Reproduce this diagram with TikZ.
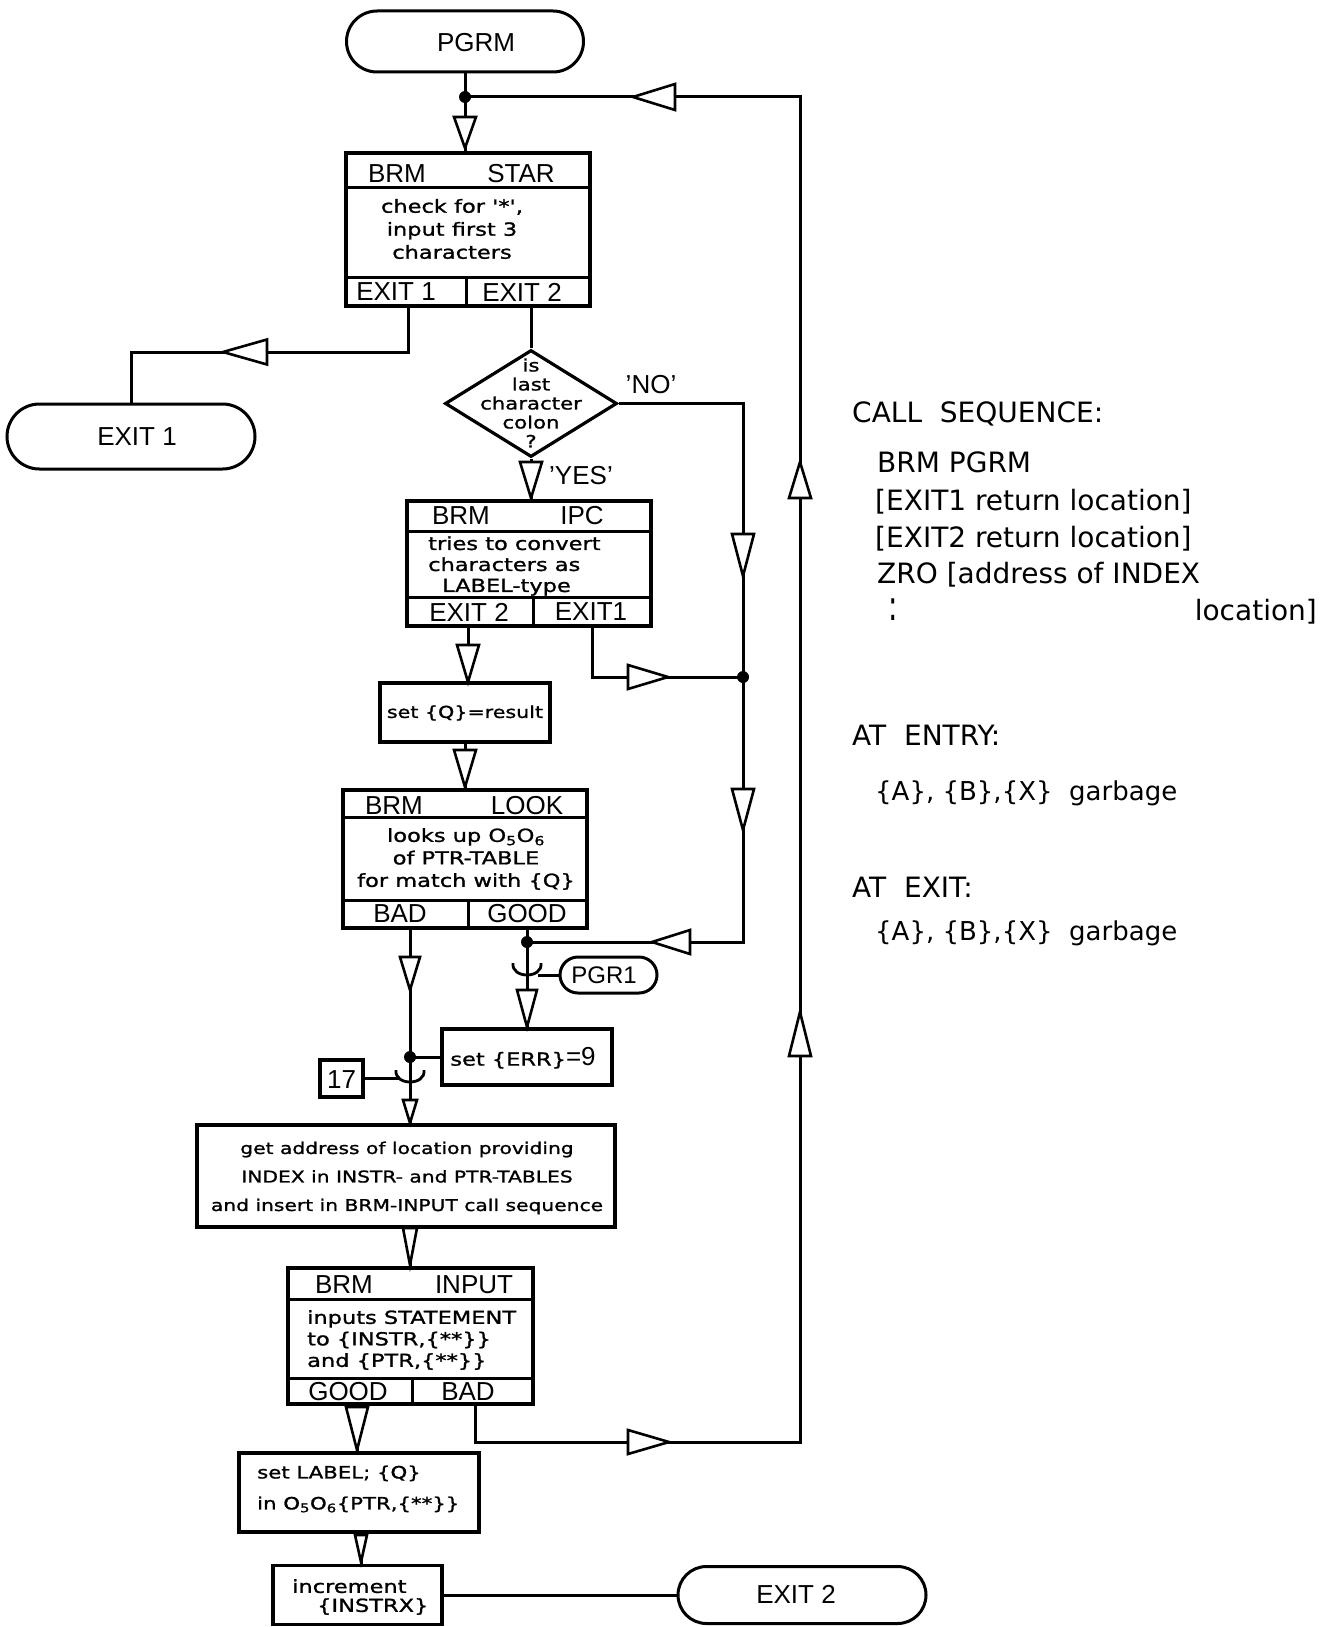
\documentclass[tikz,border=0pt]{standalone}
\usepackage{fontspec}
\setmainfont{Liberation Sans}
\newfontfamily\handf{DejaVu Sans}[FakeStretch=1.25, FakeBold=1.2]
\newfontfamily\rtf{DejaVu Sans}
\usetikzlibrary{calc,shapes.misc,shapes.geometric}

\tikzset{
  conn/.style={line width=3pt, line join=miter},
  trist/.style={line width=2.6pt, fill=white, line join=miter},
  boxst/.style={draw, line width=3.2pt, inner sep=0pt, rectangle},
  termst/.style={draw, line width=3pt, inner sep=0pt, rounded rectangle},
  capl/.style={font=\fontsize{26}{30}\selectfont, inner sep=0pt},
  hand/.style={font=\handf\fontsize{18}{23}\selectfont, inner sep=0pt, align=center},
  rtxt/.style={font=\rtf\fontsize{28}{32}\selectfont, inner sep=0pt, anchor=base west},
}
\newcommand\tri[4]{\begin{scope}[shift={#1}, rotate=#2]\draw[trist] (0,0) -- (-#3,#4/2) -- (-#3,-#4/2) -- cycle;\end{scope}}
\newcommand\curl[1]{\draw[conn, line width=2.8pt] ($#1+(-14,-7)$) .. controls ($#1+(-16,9)$) and ($#1+(16,9)$) .. ($#1+(14,-7)$);}

\begin{document}
\begin{tikzpicture}[x=1pt,y=-1pt]
\fill[white] (0,0) rectangle (1320,1627);
\useasboundingbox (0,0) rectangle (1320,1627);

% ---------- terminals
\node[termst, minimum width=237, minimum height=61] (pgrm) at (465,41.5) {};
\node[capl] (pgrmT) at (476,43) {PGRM};
\node[termst, minimum width=248, minimum height=65] (exit1) at (131,436.5) {};
\node[capl] (exit1T) at (137,437) {EXIT 1};
\node[termst, minimum width=248, minimum height=57] (exit2) at (802,1595) {};
\node[capl] (exit2T) at (796,1594) {EXIT 2};
\node[termst, minimum width=97, minimum height=36] (pgr1) at (608.5,975) {};
\node[capl, font=\fontsize{24}{28}\selectfont] (pgr1T) at (604,975) {PGR1};

% ---------- BRM STAR
\node[boxst, minimum width=244, minimum height=153] (star) at (468,229.5) {};
\draw[conn] (346,187) -- (590,187);
\draw[conn] (346,277) -- (590,277);
\draw[conn] (466,277) -- (466,306);
\node[capl] (starB) at (397,174) {BRM};
\node[capl] (starS) at (521,174) {STAR};
\node[capl] (starE1) at (396,292) {EXIT 1};
\node[capl] (starE2) at (522,292) {EXIT 2};
\node[hand] (starT) at (452,229) {check for '*',\\input first 3\\characters};
\coordinate (starX1) at (408,306);
\coordinate (starX2) at (531,306);

% ---------- diamond
\node[diamond, draw, line width=3.2pt, minimum width=172, minimum height=107, inner sep=0pt] (dia) at (531,403.5) {};
\node[hand, font=\handf\fontsize{17}{19}\selectfont] (diaT) at (531,403) {is\\last\\character\\colon\\?};
\node[capl] (noT) at (651,385) {'NO'};
\node[capl] (yesT) at (581,476) {'YES'};

% ---------- BRM IPC
\node[boxst, minimum width=244, minimum height=125] (ipc) at (529,563.5) {};
\draw[conn] (407,531) -- (651,531);
\draw[conn] (407,597) -- (651,597);
\draw[conn] (533,597) -- (533,626);
\node[capl] (ipcB) at (461,516) {BRM};
\node[capl] (ipcI) at (582,516) {IPC};
\node[capl] (ipcE2) at (469,612) {EXIT 2};
\node[capl] (ipcE1) at (591,612) {EXIT1};
\node[hand, align=left, anchor=west, font=\handf\fontsize{18}{21}\selectfont] (ipcT) at (428,566) {tries to convert\\characters as\\\hspace*{14pt}LABEL-type};
\coordinate (ipcX2) at (468,626);
\coordinate (ipcX1) at (592,626);

% ---------- set Q
\node[boxst, minimum width=170, minimum height=59] (setq) at (465,712.5) {};
\node[hand, font=\handf\fontsize{16.5}{20}\selectfont] (setqT) at (465,713) {set \{Q\}=result};

% ---------- BRM LOOK
\node[boxst, minimum width=244, minimum height=138] (look) at (465,859) {};
\draw[conn] (343,817) -- (587,817);
\draw[conn] (343,900) -- (587,900);
\draw[conn] (468,900) -- (468,928);
\node[capl] (lookB) at (394,806) {BRM};
\node[capl] (lookL) at (527,806) {LOOK};
\node[capl] (lookBad) at (400,914) {BAD};
\node[capl] (lookGood) at (527,914) {GOOD};
\node[hand, font=\handf\fontsize{18}{22.5}\selectfont] (lookT) at (466,859) {looks up O\textsubscript{5}O\textsubscript{6}\\of PTR-TABLE\\for match with \{Q\}};
\coordinate (lookXB) at (410,928);
\coordinate (lookXG) at (527,928);

% ---------- set ERR
\node[boxst, minimum width=170, minimum height=56] (err) at (527,1057) {};
\node[hand] (errT) at (523,1058) {set \{ERR\}{\normalfont\fontsize{26}{26}\selectfont =9}};

% ---------- 17
\node[boxst, minimum width=43, minimum height=37] (n17) at (341.5,1078.5) {};
\node[capl] (n17T) at (341.5,1080) {17};

% ---------- get address
\node[boxst, minimum width=418, minimum height=102] (get) at (406,1176) {};
\node[hand, font=\handf\fontsize{16.2}{28.5}\selectfont] (getT) at (407,1178) {get address of location providing\\INDEX in INSTR- and PTR-TABLES\\and insert in BRM-INPUT call sequence};

% ---------- BRM INPUT
\node[boxst, minimum width=245, minimum height=136] (inp) at (410.5,1336) {};
\draw[conn] (288,1299) -- (533,1299);
\draw[conn] (288,1378) -- (533,1378);
\draw[conn] (412,1378) -- (412,1404);
\node[capl] (inpB) at (344,1285) {BRM};
\node[capl] (inpI) at (474,1285) {INPUT};
\node[capl] (inpG) at (348,1392) {GOOD};
\node[capl] (inpBad) at (468,1392) {BAD};
\node[hand, align=left, anchor=west, font=\handf\fontsize{18}{21.5}\selectfont] (inpT) at (307,1340) {inputs STATEMENT\\to \{INSTR,\{**\}\}\\and \{PTR,\{**\}\}};
\coordinate (inpXG) at (357,1404);
\coordinate (inpXB) at (475,1404);

% ---------- set LABEL
\node[boxst, minimum width=240, minimum height=79] (lab) at (359,1492.5) {};
\node[hand, align=left, anchor=west, font=\handf\fontsize{17}{31}\selectfont] (labT) at (257,1489) {set LABEL; \{Q\}\\in O\textsubscript{5}O\textsubscript{6}\{PTR,\{**\}\}};
\coordinate (labX) at (361,1532);

% ---------- increment
\node[boxst, minimum width=169, minimum height=59] (inc) at (357.5,1595) {};
\node[hand, align=left, anchor=west, font=\handf\fontsize{18}{19}\selectfont] (incT) at (292,1597) {increment\\\hspace*{25pt}\{INSTRX\}};

% ---------- coordinates of junctions
\coordinate (j1) at (465,97);
\coordinate (j2) at (743,677);
\coordinate (j3) at (527,942);
\coordinate (j4) at (410,1057);
\coordinate (noC) at (743,942);
\coordinate (loopC) at (800,1442);

% ---------- connectors
\draw[conn] (pgrm.south) -- (pgrm.south |- star.north);
\draw[conn] (inpXB) |- (loopC) |- (j1);
\draw[conn] (starX1) -- ++(0,46) -| (exit1.north);
\draw[conn] (starX2) -- (dia.north);
\draw[conn] (dia.south) -- (dia.south |- ipc.north);
\draw[conn] (dia.east) -| (noC) -- (j3);
\draw[conn] (ipcX1) |- (j2);
\draw[conn] (ipcX2) -- (ipcX2 |- setq.north);
\draw[conn] (setq.south) -- (look.north);
\draw[conn] (lookXG) -- (lookXG |- err.north);
\draw[conn] (pgr1.west) -- ++(-21,0);
\draw[conn] (lookXB) -- (lookXB |- get.north);
\draw[conn] (err.west) -- (j4);
\draw[conn] (n17.east) -- ++(34,0);
\draw[conn] (j4 |- get.south) -- (j4 |- inp.north);
\draw[conn] (inpXG) -- (inpXG |- lab.north);
\draw[conn] (labX) -- (labX |- inc.north);
\draw[conn] (inc.east) -- (inc.east -| exit2.west);

% ---------- entry connector symbols
\curl{(527,970)}
\curl{(410,1077)}

% ---------- triangles
\tri{(465,148)}{-90}{31}{22}
\tri{(633,97)}{180}{42}{26}
\tri{(223,352)}{180}{44}{25}
\tri{(531,498)}{-90}{36}{22}
\tri{(743,576)}{-90}{42}{22}
\tri{(743,830)}{-90}{41}{22}
\tri{(668,677)}{0}{40}{24}
\tri{(468,682)}{-90}{37}{22}
\tri{(465,787)}{-90}{37}{22}
\tri{(652,942)}{180}{38}{24}
\tri{(410,990)}{-90}{33}{20}
\tri{(527,1027)}{-90}{37}{20}
\tri{(410,1123)}{-90}{23}{14}
\tri{(410,1265)}{-90}{37}{14}
\tri{(357,1450)}{-90}{43}{22}
\tri{(361,1562)}{-90}{27}{12}
\tri{(669,1442)}{0}{41}{24}
\tri{(800,462)}{90}{36}{22}
\tri{(800,1012)}{90}{44}{22}

% ---------- dots
\fill (j1) circle (6);
\fill (j2) circle (6);
\fill (j3) circle (6);
\fill (j4) circle (6);

% ---------- right-hand notes
\node[rtxt] (cs) at (852,422) {CALL\ \ SEQUENCE:};
\node[rtxt] (cs1) at (877,472) {BRM PGRM};
\node[rtxt] (cs2) at (875,510) {[EXIT1 return location]};
\node[rtxt] (cs3) at (875,547) {[EXIT2 return location]};
\node[rtxt] (cs4) at (877,583) {ZRO [address of INDEX};
\node[rtxt] (cs5) at (888,620) {\scalebox{1}[1.5]{:}};
\node[rtxt, anchor=base east] (cs6) at (1317,620) {location]};
\node[rtxt] (ae) at (852,745) {AT\ \ ENTRY:};
\node[rtxt, font=\rtf\fontsize{26}{30}\selectfont] (ae1) at (875,800) {\{A\}, \{B\},\{X\}\ \ garbage};
\node[rtxt] (ax) at (852,897) {AT\ \ EXIT:};
\node[rtxt, font=\rtf\fontsize{26}{30}\selectfont] (ax1) at (875,940) {\{A\}, \{B\},\{X\}\ \ garbage};
\end{tikzpicture}
\end{document}
